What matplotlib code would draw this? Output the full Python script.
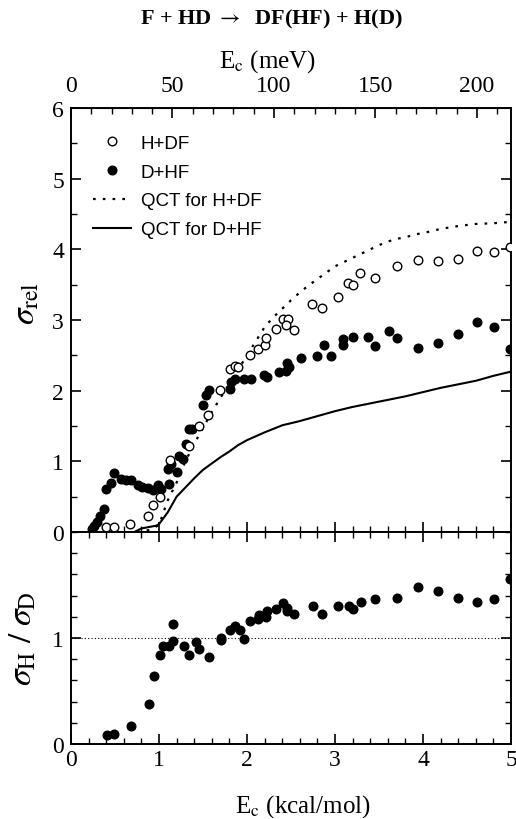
import numpy as np
import matplotlib
matplotlib.use("Agg")
import matplotlib.pyplot as plt
from matplotlib.ticker import MultipleLocator, FixedLocator

plt.rcParams["font.family"] = ["Liberation Serif", "DejaVu Serif"]
plt.rcParams["mathtext.fontset"] = "stix"

KCAL2MEV = 43.364

# H+DF (open circles): E_c [kcal/mol], sigma_rel
hdf_x = [0.40, 0.485, 0.67, 0.88, 0.93, 1.01, 1.13, 1.34, 1.46, 1.56, 1.69,
         1.81, 1.86, 1.90, 2.03, 2.13, 2.20, 2.22, 2.33, 2.41, 2.47, 2.44, 2.53,
         2.74, 2.85, 3.03, 3.15, 3.21, 3.28, 3.46, 3.70, 3.94, 4.17, 4.40, 4.61,
         4.81, 4.99]
hdf_y = [0.07, 0.07, 0.12, 0.23, 0.38, 0.50, 1.02, 1.22, 1.50, 1.65, 2.01,
         2.30, 2.35, 2.33, 2.50, 2.59, 2.64, 2.74, 2.87, 3.01, 3.01, 2.93, 2.86,
         3.22, 3.17, 3.33, 3.53, 3.49, 3.67, 3.60, 3.77, 3.85, 3.84, 3.87, 3.97,
         3.96, 4.03]

# D+HF (filled circles)
dhf_x = [0.235, 0.265, 0.30, 0.33, 0.38, 0.40, 0.45, 0.485, 0.57, 0.625, 0.68,
         0.76, 0.81, 0.87, 0.93, 0.985, 1.02, 1.11, 1.10, 1.14, 1.21, 1.23, 1.27,
         1.31, 1.34, 1.38, 1.50, 1.53, 1.57, 1.81, 1.82, 1.86, 1.97, 2.05, 2.19,
         2.23, 2.36, 2.44, 2.45, 2.48, 2.61, 2.80, 2.87, 2.95, 3.09, 3.09, 3.21,
         3.37, 3.46, 3.61, 3.70, 3.94, 4.17, 4.40, 4.61, 4.81, 4.99]
dhf_y = [0.04, 0.08, 0.14, 0.23, 0.33, 0.61, 0.70, 0.84, 0.75, 0.74, 0.73,
         0.67, 0.63, 0.62, 0.59, 0.66, 0.61, 0.68, 0.89, 0.96, 0.85, 1.08, 1.03,
         1.25, 1.46, 1.46, 1.80, 1.94, 2.01, 2.03, 2.13, 2.16, 2.17, 2.16, 2.22,
         2.20, 2.27, 2.28, 2.39, 2.33, 2.46, 2.49, 2.64, 2.49, 2.73, 2.65, 2.76,
         2.76, 2.63, 2.84, 2.74, 2.60, 2.67, 2.80, 2.97, 2.90, 2.59]

# QCT curves
qct_hdf_x = [0.75, 0.9, 1.0, 1.1, 1.2, 1.3, 1.4, 1.5, 1.6, 1.7, 1.8, 1.9, 2.0,
             2.1, 2.2, 2.3, 2.4, 2.5, 2.6, 2.7, 2.8, 2.9, 3.0, 3.1, 3.2, 3.3,
             3.4, 3.5, 3.6, 3.7, 3.8, 3.9, 4.0, 4.2, 4.4, 4.6, 4.8, 5.0]
qct_hdf_y = [0.0, 0.03, 0.1, 0.45, 0.7, 1.0, 1.25, 1.47, 1.7, 1.9, 2.1, 2.3,
             2.5, 2.7, 2.9, 3.04, 3.16, 3.28, 3.39, 3.49, 3.58, 3.67, 3.76,
             3.82, 3.88, 3.94, 4.0, 4.06, 4.11, 4.15, 4.17, 4.21, 4.23, 4.29,
             4.33, 4.36, 4.37, 4.39]
qct_dhf_x = [0.72, 0.8, 0.97, 1.0, 1.1, 1.2, 1.3, 1.4, 1.5, 1.6, 1.7, 1.8, 1.9,
             2.0, 2.2, 2.4, 2.6, 2.8, 3.0, 3.2, 3.4, 3.6, 3.8, 4.0, 4.2, 4.4,
             4.6, 4.8, 5.0]
qct_dhf_y = [0.0, 0.05, 0.09, 0.11, 0.28, 0.5, 0.63, 0.76, 0.88, 0.97, 1.06,
             1.14, 1.23, 1.3, 1.41, 1.51, 1.57, 1.64, 1.71, 1.77, 1.82, 1.87,
             1.92, 1.98, 2.04, 2.09, 2.14, 2.21, 2.27]

# ratio sigma_H / sigma_D
ratio_x = [0.41, 0.49, 0.68, 0.89, 0.94, 1.01, 1.04, 1.11, 1.16, 1.16, 1.28,
           1.34, 1.42, 1.46, 1.57, 1.70, 1.70, 1.81, 1.86, 1.92, 1.97, 2.03,
           2.13, 2.14, 2.22, 2.23, 2.33, 2.41, 2.46, 2.45, 2.53, 2.75, 2.85,
           3.03, 3.16, 3.21, 3.29, 3.46, 3.70, 3.94, 4.17, 4.40, 4.61, 4.81, 4.99]
ratio_y = [0.088, 0.09, 0.17, 0.38, 0.64, 0.84, 0.92, 0.92, 0.97, 1.13, 0.92,
           0.84, 0.96, 0.90, 0.82, 1.0, 0.98, 1.08, 1.11, 1.08, 0.99, 1.16,
           1.18, 1.22, 1.20, 1.25, 1.27, 1.33, 1.28, 1.25, 1.23, 1.30, 1.23,
           1.30, 1.30, 1.27, 1.34, 1.37, 1.38, 1.48, 1.44, 1.38, 1.34, 1.37, 1.56]

mev_ticks = [0, 50, 100, 150, 200]
mev_minor = [10 * i for i in range(22)]

fig = plt.figure(figsize=(5.16, 8.20), dpi=100)
ax1 = fig.add_axes([0.1376, 0.35, 0.8527, 0.517])
ax2 = fig.add_axes([0.1376, 0.0915, 0.8527, 0.2585])

ms = 6.2
ax1.plot(hdf_x, hdf_y, "o", ms=ms, mfc="white", mec="black", mew=1.0,
         label="H+DF", zorder=4)
ax1.plot(dhf_x, dhf_y, "o", ms=ms, mfc="black", mec="black", mew=1.0,
         label="D+HF", zorder=3)
ax1.plot(qct_hdf_x, qct_hdf_y, color="black", lw=1.6, ls=(0, (1.2, 3.2)),
         label="QCT for H+DF")
ax1.plot(qct_dhf_x, qct_dhf_y, color="black", lw=1.5, label="QCT for D+HF")

ax1.set_xlim(0, 5)
ax1.set_ylim(0, 6)
ax1.xaxis.set_major_locator(MultipleLocator(1))
ax1.xaxis.set_minor_locator(MultipleLocator(0.2))
ax1.yaxis.set_major_locator(MultipleLocator(1))
ax1.yaxis.set_minor_locator(MultipleLocator(0.5))
ax1.tick_params(axis="x", which="both", bottom=True, top=False,
                labelbottom=False, direction="in")
ax1.tick_params(axis="y", which="both", left=True, right=True,
                direction="in", labelsize=17, pad=5)
ax1.set_ylabel(r"$\sigma_{\rm rel}$", fontsize=24)
ax1.yaxis.set_label_coords(-0.066, 0.54)

sec = ax1.secondary_xaxis("top", functions=(lambda e: e * KCAL2MEV,
                                            lambda m: m / KCAL2MEV))
sec.xaxis.set_major_locator(FixedLocator(mev_ticks))
sec.xaxis.set_minor_locator(FixedLocator(mev_minor))
sec.tick_params(which="both", direction="in", labelsize=17, pad=9)
fig.text(0.519, 0.925, r"E$_{\rm c}$ (meV)", ha="center", va="center",
         fontsize=18)

leg = ax1.legend(loc="upper left", bbox_to_anchor=(0.05, 0.937),
                 frameon=False, borderpad=0.0, borderaxespad=0.0,
                 handlelength=2.05, handletextpad=0.5, labelspacing=0.62,
                 prop={"family": "Liberation Sans", "size": 13.5})

ax2.plot(ratio_x, ratio_y, "o", ms=ms, mfc="black", mec="black", zorder=3)
ax2.axhline(1.0, color="black", lw=0.8, ls=(0, (1, 2)))
ax2.set_xlim(0, 5)
ax2.set_ylim(0, 2)
ax2.xaxis.set_major_locator(MultipleLocator(1))
ax2.xaxis.set_minor_locator(MultipleLocator(0.2))
ax2.yaxis.set_major_locator(FixedLocator([0, 1]))
ax2.yaxis.set_minor_locator(MultipleLocator(0.2))
ax2.tick_params(which="both", top=True, right=True, direction="in",
                labelsize=17)
ax2.tick_params(axis="y", pad=5)
ax2.set_xlabel(r"E$_{\rm c}$ (kcal/mol)", fontsize=18)
ax2.xaxis.set_label_coords(0.527, -0.228)
ax2.set_ylabel(r"$\sigma_{\rm H}\ /\ \sigma_{\rm D}$", fontsize=24)
ax2.yaxis.set_label_coords(-0.075, 0.5)

for ax in (ax1, ax2):
    for sp in ax.spines.values():
        sp.set_linewidth(1.4)
    ax.tick_params(which="major", length=7, width=1.2)
    ax.tick_params(which="minor", length=4, width=1.0)
sec.tick_params(which="major", length=7, width=1.2)
sec.tick_params(which="minor", length=4, width=1.0)

fig.text(0.527, 0.976, r"F + HD $\rightarrow$  DF(HF) + H(D)", ha="center",
         va="center", fontsize=16, fontweight="bold")

fig.savefig("out.png", dpi=100)
